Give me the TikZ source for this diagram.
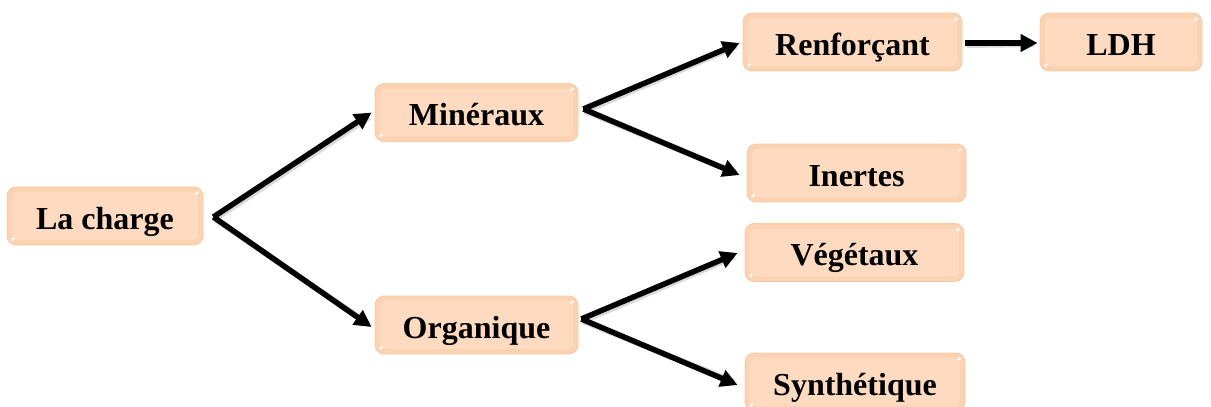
\documentclass[tikz,border=0pt]{standalone}
\usepackage{fontspec}
\setmainfont{Liberation Serif}
\usetikzlibrary{arrows.meta}
\definecolor{peachedge}{HTML}{F9CBA6}
\definecolor{peachfill}{HTML}{FBD2B2}
\definecolor{peachcore}{HTML}{FDDAC0}
\tikzset{
  cbox/.style={
    rounded corners=9pt, fill=peachfill, draw=peachedge, line width=0.8pt,
    minimum height=58pt, text height=26pt, text depth=0pt,
    font=\fontsize{32}{38}\selectfont\bfseries, text=black, inner sep=0pt,
    path picture={
      \fill[peachcore, rounded corners=6pt]
        ([shift={(5pt,5pt)}]path picture bounding box.south west)
        rectangle ([shift={(-5pt,-5pt)}]path picture bounding box.north east);
      \fill[white, opacity=0.85]
        ([shift={(-6pt,-6pt)}]path picture bounding box.north east) circle[x radius=2.2pt, y radius=1.4pt, rotate=45];
      \fill[white, opacity=0.85]
        ([shift={(6pt,6pt)}]path picture bounding box.south west) circle[x radius=2.2pt, y radius=1.4pt, rotate=45];
    }},
  link/.style={line width=5.5pt, -{Triangle[length=17pt,width=17pt]}},
  linkshadow/.style={line width=6pt, draw=black!25, opacity=0.6, shorten >=5pt,
    transform canvas={xshift=1.5pt, yshift=-2pt}}
}
\begin{document}
\begin{tikzpicture}[x=1pt, y=-1pt]
  \useasboundingbox (0,0) rectangle (1211,407);
  \begin{scope}
  \clip (0,0) rectangle (1211,407);

  % boxes
  \node[cbox, minimum width=196pt] (charge) at (105,216) {La charge};
  \node[cbox, minimum width=203pt] (min)    at (476.5,112.5) {Minéraux};
  \node[cbox, minimum width=203pt] (org)    at (476.5,325) {Organique};
  \node[cbox, minimum width=219pt] (renf)   at (852.5,42) {Renforçant};
  \node[cbox, minimum width=162pt] (ldh)    at (1121,42) {LDH};
  \node[cbox, minimum width=219pt] (inert)  at (856.5,173) {Inertes};
  \node[cbox, minimum width=219pt] (veg)    at (854.5,252.5) {Végétaux};
  \node[cbox, minimum width=220pt] (syn)    at (855,382) {Synthétique};

  % anchor points of the connectors
  \coordinate (c0) at ([xshift=10pt,yshift=-1pt]charge.east);
  \coordinate (m0) at ([xshift=5pt,yshift=3.5pt]min.east);
  \coordinate (o0) at ([xshift=3pt,yshift=6pt]org.east);
  \coordinate (r0) at ([xshift=3pt,yshift=-1pt]renf.east);

  % soft shadows under the arrows
  \foreach \a/\b/\s in {c0/min/3, c0/org/3, m0/renf/3, m0/inert/7, o0/veg/7, o0/syn/7, r0/ldh/2}
    \draw[linkshadow] (\a) -- ([xshift=-\s pt]\b.west);

  % connectors
  \draw[link] (c0) -- ([xshift=-3pt]min.west);
  \draw[link] (c0) -- ([xshift=-3pt,yshift=-2pt]org.west);
  \draw[link] (m0) -- ([xshift=-3pt,yshift=-1pt]renf.west);
  \draw[link] (m0) -- ([xshift=-7pt,yshift=-2pt]inert.west);
  \draw[link] (o0) -- ([xshift=-7pt,yshift=-0.5pt]veg.west);
  \draw[link] (o0) -- ([xshift=-7pt,yshift=-3pt]syn.west);
  \draw[link] (r0) -- ([xshift=-2pt,yshift=-1pt]ldh.west);
  \end{scope}
\end{tikzpicture}
\end{document}
